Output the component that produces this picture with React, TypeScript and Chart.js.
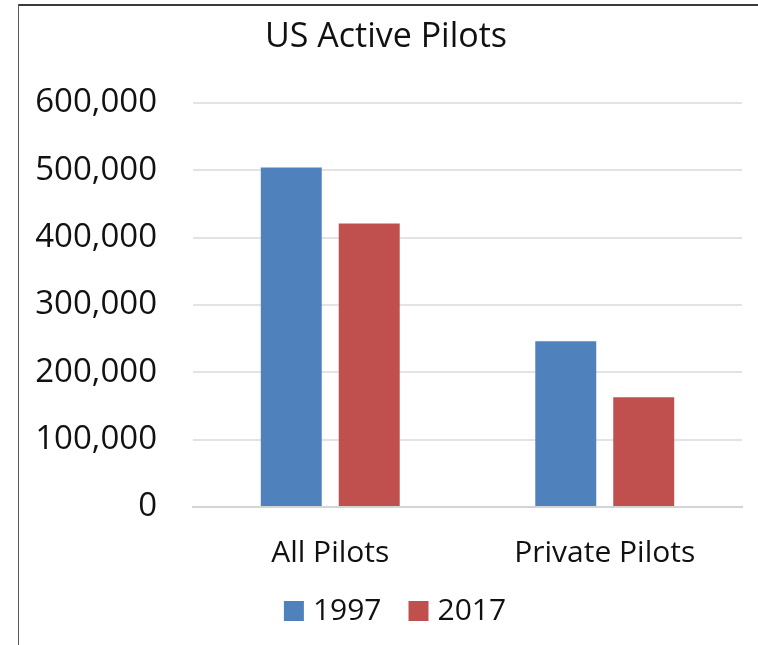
import React, { useEffect, useRef } from "react";
import { Chart, registerables } from "chart.js";

Chart.register(...registerables);

const chartTitle = "US Active Pilots";
const categories = ["All Pilots", "Private Pilots"];
const seriesNames = ["1997", "2017"];
const values1997 = [504000, 246000];
const values2017 = [421000, 163000];
const yMin = 0;
const yMax = 600000;
const yStep = 100000;

const BLUE = "#4F81BD";
const RED = "#C0504D";
const TEXT = "#111111";
const FONT = "'Open Sans', 'Noto Sans', sans-serif";

const shiftPlugin = {
  id: "shiftBoxes",
  afterLayout(chart: any) {
    const t = chart.titleBlock;
    if (t) {
      t.left += 6;
      t.right += 6;
    }
    const l = chart.legend;
    if (l) {
      l.left += 18;
      l.right += 18;
      l.top -= 36;
      l.bottom = chart.height;
      l.height = l.bottom - l.top;
    }
  },
};

export default function App() {
  const ref = useRef<HTMLCanvasElement | null>(null);

  useEffect(() => {
    if (!ref.current) return;
    const chart = new Chart(ref.current, {
      type: "bar",
      data: {
        labels: categories,
        datasets: [
          {
            label: seriesNames[0],
            data: values1997,
            backgroundColor: BLUE,
            borderWidth: 0,
          },
          {
            label: seriesNames[1],
            data: values2017,
            backgroundColor: RED,
            borderWidth: 0,
          },
        ],
      },
      options: {
        animation: false,
        responsive: false,
        maintainAspectRatio: false,
        categoryPercentage: 0.568,
        barPercentage: 0.782,
        layout: { padding: { left: 18, right: 16, top: 8, bottom: 0 } },
        plugins: {
          title: {
            display: true,
            text: chartTitle,
            color: TEXT,
            font: { family: FONT, size: 34, weight: "normal" },
            padding: { top: 9, bottom: 45 },
          },
          legend: {
            display: true,
            position: "bottom",
            maxHeight: 46,
            labels: {
              color: TEXT,
              font: { family: FONT, size: 30 },
              usePointStyle: true,
              pointStyle: "rect",
              boxWidth: 8,
              boxHeight: 20,
              padding: 33,
            },
          },
          tooltip: { enabled: false },
        },
        scales: {
          x: {
            grid: { display: false, drawTicks: false },
            border: { display: true, color: "#D4D4D4", width: 2 },
            ticks: {
              color: TEXT,
              font: { family: FONT, size: 30 },
              padding: 28,
              maxRotation: 0,
            },
          },
          y: {
            min: yMin,
            max: yMax,
            grid: { color: "#E3E3E3", lineWidth: 2, drawTicks: false },
            border: { display: false },
            ticks: {
              stepSize: yStep,
              color: TEXT,
              font: { family: FONT, size: 33 },
              padding: 36,
              callback: (v: any) => Number(v).toLocaleString("en-US"),
            },
            afterFit: (scale: any) => {
              scale.width = 175;
            },
          },
        },
      },
      plugins: [shiftPlugin],
    });
    return () => chart.destroy();
  }, []);

  return (
    <div
      style={{
        position: "absolute",
        left: 0,
        top: 0,
        width: 758,
        height: 645,
        background: "#ffffff",
        overflow: "hidden",
      }}
    >
      <canvas ref={ref} width={758} height={645} style={{ display: "block" }} />
      <div
        style={{
          position: "absolute",
          left: 18,
          top: 4,
          width: 740,
          height: 2,
          background: "#3a3a3a",
        }}
      />
      <div
        style={{
          position: "absolute",
          left: 18,
          top: 4,
          width: 1,
          height: 641,
          background: "#5a5a5a",
        }}
      />
    </div>
  );
}
